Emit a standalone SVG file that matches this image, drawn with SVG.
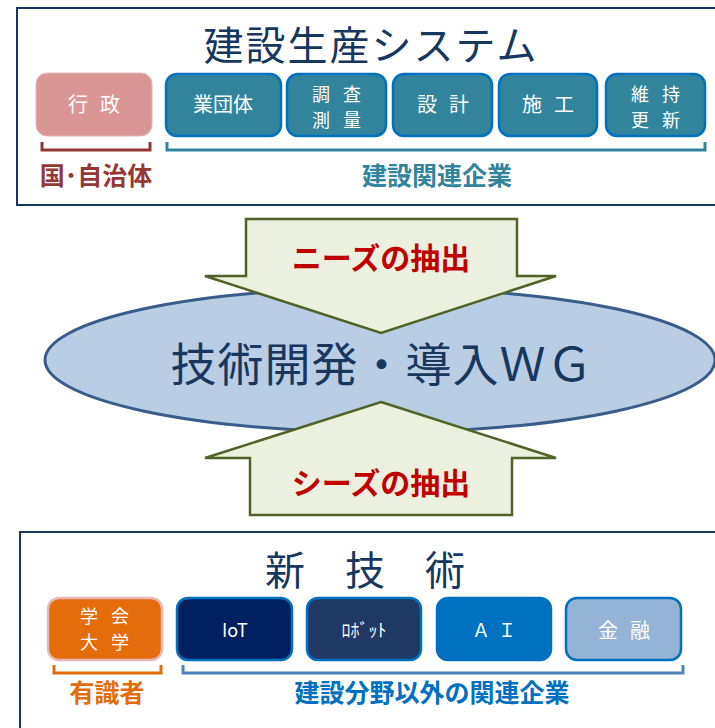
<svg xmlns="http://www.w3.org/2000/svg" width="715" height="728" viewBox="0 0 715 728">
<style>
text{font-family:"Noto Sans CJK JP","Noto Sans",sans-serif;text-anchor:middle}
.frame{fill:#fff;stroke:#17375E;stroke-width:2}
.bt{fill:#fff;font-size:20px;letter-spacing:12px}
.bt2{fill:#fff;font-size:18px;letter-spacing:13px}
.teal{fill:#31849B;stroke:#0070C0;stroke-width:2.5}
.lbl{font-weight:bold;font-size:25px}
.arrow{fill:#EBF1DE;stroke:#4F6228;stroke-width:2.5}
.red{fill:#C00000;font-weight:bold;font-size:30px}
</style>
<rect width="715" height="728" fill="#fff"/>
<g id="top-frame">
<rect class="frame" x="17" y="8" width="710" height="197"/>
<text x="371" y="60" font-size="40" fill="#17375E" letter-spacing="2">建設生産システム</text>
</g>
<g id="gyosei">
<rect x="36" y="73" width="116" height="63" rx="11" fill="#D99694" stroke="#E6B9B8" stroke-width="1"/>
<text class="bt" x="100" y="112">行政</text>
</g>
<g id="gyodantai">
<rect class="teal" x="166" y="74" width="115" height="62" rx="11"/>
<text x="223" y="112" fill="#fff" font-size="20">業団体</text>
</g>
<g id="chosa">
<rect class="teal" x="287" y="74" width="99" height="62" rx="11"/>
<text class="bt2" x="343" y="101">調査</text>
<text class="bt2" x="343" y="127">測量</text>
</g>
<g id="sekkei">
<rect class="teal" x="393" y="74" width="99" height="62" rx="11"/>
<text class="bt" x="449" y="112">設計</text>
</g>
<g id="seko">
<rect class="teal" x="499" y="74" width="98" height="62" rx="11"/>
<text class="bt" x="554" y="112">施工</text>
</g>
<g id="iji">
<rect class="teal" x="606" y="74" width="99" height="62" rx="11"/>
<text class="bt2" x="662" y="101">維持</text>
<text class="bt2" x="662" y="127">更新</text>
</g>
<g id="top-brackets" fill="none" stroke-width="3">
<path d="M42,142 V150 H150 V142" stroke="#943634"/>
<path d="M167,142 V150 H705 V142" stroke="#31849B"/>
</g>
<text class="lbl" x="96" y="185" fill="#953735">国･自治体</text>
<text class="lbl" x="437" y="185" fill="#31849B">建設関連企業</text>
<g id="wg">
<ellipse cx="380" cy="360" rx="335" ry="72" fill="#B9CDE5" stroke="#385D8A" stroke-width="3"/>
<text x="382" y="381" font-size="46" fill="#17375E" letter-spacing="1">技術開発・導入ＷＧ</text>
</g>
<g id="connectors">
<g id="needs">
<path class="arrow" d="M246,219 H517 V276 H556 L381,333 L205,276 H246 Z"/>
<text class="red" x="381" y="269">ニーズの抽出</text>
</g>
<g id="seeds">
<path class="arrow" d="M381,402 L556,458 H512 V515 H250 V458 H205 Z"/>
<text class="red" x="381" y="494">シーズの抽出</text>
</g>
</g>
<g id="bottom-frame">
<rect class="frame" x="20" y="532" width="710" height="210"/>
<text x="365" y="585" font-size="40" fill="#17375E" xml:space="preserve">新　技　術</text>
</g>
<g id="gakkai">
<rect x="48" y="598" width="114" height="62" rx="11" fill="#E46C0A" stroke="#E6B9B8" stroke-width="2.5"/>
<text class="bt2" x="111" y="623">学会</text>
<text class="bt2" x="111" y="649">大学</text>
</g>
<g id="iot">
<rect x="177" y="598" width="115" height="62" rx="11" fill="#002060" stroke="#0070C0" stroke-width="2.5"/>
<text x="235" y="637" fill="#fff" font-size="18" font-family="Liberation Sans Narrow, Liberation Sans, sans-serif">IoT</text>
</g>
<g id="robot">
<rect x="307" y="598" width="114" height="62" rx="11" fill="#1F3864" stroke="#0070C0" stroke-width="2.5"/>
<text x="364" y="637" fill="#fff" font-size="18">ﾛﾎﾞｯﾄ</text>
</g>
<g id="ai">
<rect x="437" y="598" width="114" height="62" rx="11" fill="#0070C0" stroke="#0070C0" stroke-width="2.5"/>
<text x="498" y="637" fill="#fff" font-size="18" letter-spacing="8">ＡＩ</text>
</g>
<g id="kinyu">
<rect x="566" y="598" width="115" height="62" rx="11" fill="#95B3D7" stroke="#0070C0" stroke-width="2.5"/>
<text class="bt" x="630" y="638">金融</text>
</g>
<g id="bottom-brackets" fill="none" stroke-width="3">
<path d="M54,665 V673 H161 V665" stroke="#E46C0A"/>
<path d="M183,665 V673 H683 V665" stroke="#4F81BD"/>
</g>
<text class="lbl" x="107" y="702" fill="#E46C0A">有識者</text>
<text class="lbl" x="432" y="702" fill="#0070C0">建設分野以外の関連企業</text>
</svg>
